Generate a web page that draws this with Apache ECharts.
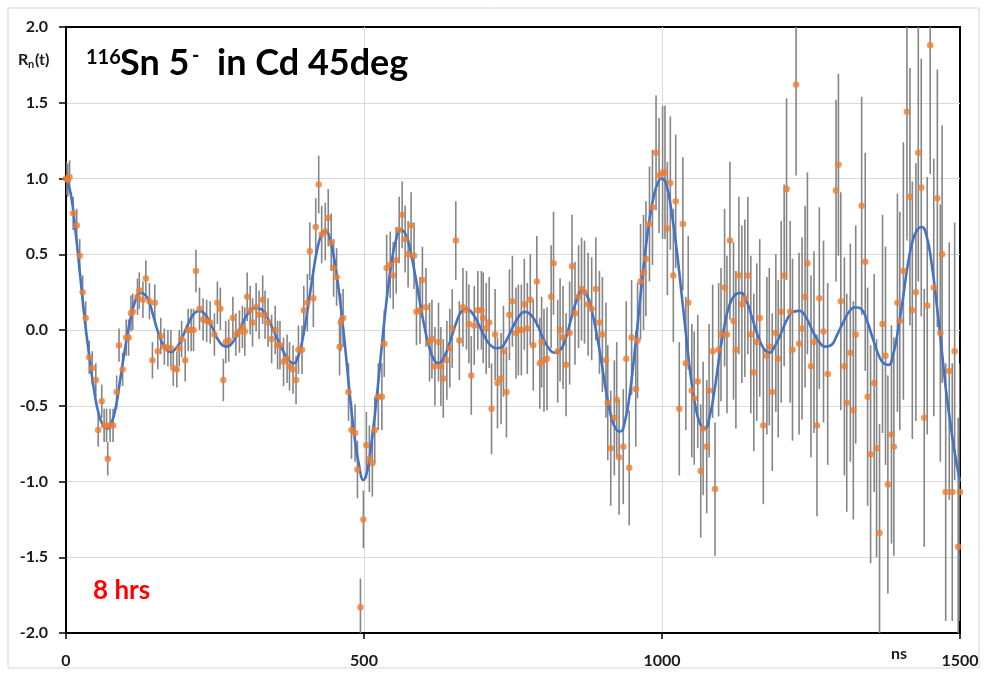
<!DOCTYPE html>
<html><head><meta charset="utf-8">
<script src="https://cdn.jsdelivr.net/npm/echarts@6/dist/echarts.min.js"></script>
<style>html,body{margin:0;padding:0;background:#fff}#c{width:987px;height:676px}</style>
</head><body><div id="c"></div>
<script>
// time (ns) of each measured point
const tNs = [
  0,3,6,12,18,23,28,33,39,44,
  50,54,60,64,68,70,74,79,85,89,
  95,101,105,109,112,120,123,129,134,140,
  145,149,154,159,165,171,176,180,186,190,
  194,200,205,210,214,218,224,230,236,242,
  249,254,259,264,268,273,280,285,291,296,
  300,304,309,313,319,324,330,334,339,345,
  351,355,359,365,371,375,381,386,390,396,
  399,405,409,415,419,424,429,435,440,445,
  449,454,459,461,465,474,479,485,489,494,
  499,504,509,514,518,524,530,534,538,544,
  549,554,559,564,569,574,579,584,588,594,
  598,604,610,614,619,625,629,633,639,644,
  648,654,660,666,672,676,680,685,691,697,
  700,705,710,714,720,724,730,734,739,744,
  749,755,759,764,769,774,779,784,790,795,
  798,802,807,814,818,825,829,834,839,845,
  849,854,860,865,870,876,882,889,895,900,
  906,909,914,920,924,928,935,940,945,949,
  956,959,964,969,973,979,984,990,995,1001,
  1005,1009,1014,1019,1023,1029,1035,1040,1044,1050,
  1054,1060,1065,1069,1075,1079,1085,1089,1095,1099,
  1105,1109,1114,1120,1124,1129,1134,1139,1144,1149,
  1154,1159,1164,1170,1176,1180,1185,1191,1195,1200,
  1205,1209,1215,1219,1225,1230,1235,1240,1244,1250,
  1255,1260,1264,1271,1278,1292,1296,1300,1306,1310,
  1316,1321,1325,1335,1341,1345,1350,1356,1360,1365,
  1370,1375,1379,1385,1389,1395,1399,1405,1411,1416,
  1420,1426,1430,1435,1440,1445,1450,1456,1462,1467,
  1470,1476,1482,1487,1491,1497,1500
];
// measured R_n(t) values
const rVals = [
  1.00,0.99,1.01,0.77,0.69,0.49,0.25,0.08,-0.18,-0.25,
  -0.33,-0.66,-0.47,-0.63,-0.63,-0.85,-0.63,-0.63,-0.41,-0.10,
  -0.26,-0.05,-0.05,0.11,0.12,0.22,0.26,0.20,0.34,0.19,
  -0.20,0.18,-0.14,-0.04,-0.11,-0.12,-0.12,-0.25,-0.26,-0.12,
  -0.06,-0.20,0.00,0.00,0.00,0.39,0.14,0.07,0.06,0.05,
  -0.03,0.18,0.14,-0.33,-0.08,-0.07,0.08,-0.03,-0.01,0.02,
  -0.01,0.22,0.13,0.05,0.15,0.10,0.20,0.10,0.05,-0.06,
  0.00,-0.10,-0.10,-0.21,-0.19,-0.24,-0.26,-0.33,-0.13,-0.13,
  0.13,0.18,0.52,0.21,0.68,0.96,0.63,0.65,0.74,0.58,
  0.41,0.35,-0.11,0.05,0.08,-0.41,-0.66,-0.68,-0.92,-1.83,
  -1.25,-0.76,-0.85,-0.88,-0.66,-0.44,-0.44,-0.09,0.41,0.43,
  0.36,0.46,0.66,0.76,0.60,0.50,0.69,0.49,0.12,0.13,
  0.33,0.15,-0.08,-0.06,-0.24,-0.08,-0.24,-0.32,-0.20,-0.12,
  0.01,0.59,-0.07,0.15,0.13,0.04,-0.30,0.03,0.13,0.13,
  0.08,0.01,0.05,-0.52,-0.03,-0.35,-0.32,-0.14,-0.41,0.10,
  0.19,-0.02,0.00,0.00,0.17,0.01,0.20,-0.10,0.32,-0.22,
  -0.08,-0.20,-0.19,0.22,0.44,-0.14,0.00,-0.05,-0.23,-0.02,
  0.42,0.11,0.22,0.27,0.25,0.17,0.14,0.27,0.05,-0.03,
  -0.20,-0.48,-0.78,-0.58,-0.46,-0.84,-0.77,-0.19,-0.91,-0.05,
  -0.39,-0.07,0.32,0.38,0.47,0.70,0.81,1.17,1.02,1.04,
  1.04,0.67,0.97,0.36,0.85,-0.52,0.70,-0.22,0.18,-0.40,
  -0.45,-0.34,-0.93,-0.65,-0.77,-0.40,-0.14,-1.05,-0.13,-0.03,
  0.28,-0.03,0.59,0.06,-0.13,0.36,0.17,0.21,0.36,-0.03,
  -0.28,-0.08,0.08,-0.63,-0.17,-0.11,-0.41,-0.02,-0.19,0.12,
  0.36,0.93,0.12,-0.13,1.62,-0.09,0.01,0.22,0.44,-0.24,
  -0.08,-0.63,0.21,-0.01,-0.29,0.92,1.09,0.19,-0.24,-0.48,
  -0.15,-0.53,-0.03,0.82,0.45,-0.44,-0.82,-0.35,-0.78,-1.34,
  0.04,-0.17,-1.02,-0.69,-0.77,0.18,0.06,0.39,1.44,0.88,
  0.13,0.25,1.17,0.94,-0.58,0.16,1.88,0.28,0.87,-0.02,
  0.50,-1.07,-0.27,-1.07,-0.14,-1.43,-1.07
];
// error-bar half-length, per 100 ns band
const errBandStep = 100;
const errBand = [0.11,0.12,0.14,0.16,0.19,0.22,0.26,0.30,0.34,0.38,0.44,0.52,0.60,0.72,0.85];
// fitted curve
const fitT = [
  0,8,16,24,32,40,48,56,64,70,76,84,92,100,108,116,124,130,138,146,
  155,165,175,185,195,205,215,224,234,245,256,268,280,292,304,316,326,338,350,362,
  372,382,390,398,406,414,422,430,436,444,452,460,468,476,484,492,499,506,514,522,
  530,538,546,554,562,570,578,586,594,602,610,618,625,634,644,654,663,672,682,692,
  702,712,722,730,740,750,760,770,780,790,800,810,820,828,838,848,858,866,874,882,
  890,898,906,914,922,930,938,946,954,962,970,978,986,994,1000,1008,1016,1024,1032,1040,
  1048,1056,1064,1072,1080,1088,1096,1104,1112,1122,1132,1142,1152,1162,1172,1180,1190,1200,1210,1220,
  1231,1242,1252,1262,1274,1284,1294,1304,1314,1324,1334,1344,1354,1364,1372,1380,1388,1396,1404,1412,
  1420,1428,1436,1444,1452,1460,1468,1476,1484,1492,1500
];
const fitV = [
  1.00,0.90,0.65,0.35,0.05,-0.20,-0.42,-0.57,-0.64,-0.65,-0.62,-0.50,-0.30,-0.10,0.07,0.19,0.245,0.24,0.20,0.10,
  -0.02,-0.11,-0.145,-0.12,-0.05,0.04,0.11,0.125,0.10,0.02,-0.07,-0.11,-0.08,0.01,0.10,0.145,0.14,0.08,-0.02,-0.12,
  -0.19,-0.22,-0.17,-0.04,0.15,0.36,0.54,0.64,0.65,0.58,0.42,0.19,-0.10,-0.42,-0.70,-0.90,-0.99,-0.92,-0.70,-0.42,
  -0.10,0.20,0.44,0.60,0.66,0.63,0.52,0.36,0.18,0.01,-0.12,-0.20,-0.22,-0.18,-0.08,0.04,0.12,0.14,0.11,0.04,
  -0.04,-0.10,-0.12,-0.115,-0.06,0.02,0.09,0.12,0.10,0.04,-0.05,-0.12,-0.15,-0.14,-0.06,0.08,0.21,0.26,0.23,0.13,
  -0.02,-0.20,-0.40,-0.56,-0.65,-0.67,-0.60,-0.42,-0.15,0.15,0.45,0.70,0.88,0.98,1.00,0.95,0.78,0.55,0.27,-0.02,
  -0.30,-0.50,-0.62,-0.65,-0.57,-0.40,-0.18,0.01,0.15,0.23,0.245,0.19,0.07,-0.05,-0.13,-0.15,-0.10,-0.02,0.07,0.12,
  0.126,0.08,0.00,-0.07,-0.11,-0.10,-0.03,0.05,0.12,0.15,0.14,0.06,-0.06,-0.17,-0.22,-0.23,-0.16,0.00,0.20,0.42,
  0.58,0.66,0.68,0.62,0.45,0.20,-0.08,-0.38,-0.62,-0.83,-1.00
];
const xTicks = [0, 500, 1000, 1500];
const yTickStep = 0.5;

const FONT = 'Lato';
const chart = echarts.init(document.getElementById('c'), null, {renderer: 'canvas'});
const pts = tNs.map((t, i) => [t, rVals[i]]);
const bars = tNs.map((t, i) => {
  const e = errBand[Math.min(errBand.length - 1, Math.floor(t / errBandStep))];
  return [t, rVals[i] - e, rVals[i] + e];
});
const fit = fitT.map((t, i) => [t, fitV[i]]);

function renderBar(params, api) {
  const t = api.value(0);
  const p1 = api.coord([t, api.value(1)]);
  const p2 = api.coord([t, api.value(2)]);
  return {
    type: 'line',
    shape: {x1: p1[0], y1: p1[1], x2: p2[0], y2: p2[1]},
    style: {stroke: '#858585', lineWidth: 1.6}
  };
}

const labelStyle = {fontFamily: FONT, fontWeight: 'bold', fontSize: 16, color: '#1a1a1a'};

chart.setOption({
  animation: false,
  backgroundColor: '#ffffff',
  grid: {left: 66, top: 27, width: 894, height: 606, show: true, borderColor: '#000', borderWidth: 2, backgroundColor: '#fff'},
  xAxis: {
    type: 'value', min: xTicks[0], max: xTicks[xTicks.length - 1], interval: xTicks[1] - xTicks[0],
    axisLine: {show: true, onZero: false, lineStyle: {color: '#000', width: 2}},
    axisTick: {show: true, length: 6, lineStyle: {color: '#000', width: 1.5}},
    axisLabel: Object.assign({margin: 20, formatter: v => String(v)}, labelStyle),
    splitLine: {show: true, showMinLine: false, showMaxLine: false, lineStyle: {color: '#d9d9d9', width: 1}}
  },
  yAxis: {
    type: 'value', min: -2, max: 2, interval: yTickStep,
    axisLine: {show: true, onZero: false, lineStyle: {color: '#000', width: 2}},
    axisTick: {show: true, length: 7, lineStyle: {color: '#000', width: 1.5}},
    axisLabel: Object.assign({margin: 18, formatter: v => v.toFixed(1)}, labelStyle),
    splitLine: {show: true, showMinLine: false, showMaxLine: false, lineStyle: {color: '#d9d9d9', width: 1}}
  },
  series: [
    {type: 'custom', renderItem: renderBar, data: bars, encode: {x: 0, y: [1, 2]}, clip: true, z: 1, silent: true},
    {type: 'line', data: fit, smooth: 0.5, showSymbol: false, lineStyle: {color: '#4472C4', width: 2.6}, z: 2, silent: true},
    {type: 'scatter', data: pts, symbolSize: 6.5, itemStyle: {color: '#ED7D31'}, z: 3, clip: true, silent: true}
  ],
  graphic: [
    {type: 'rect', shape: {x: 8, y: 8, width: 971, height: 660}, style: {fill: 'none', stroke: '#d6d6d6', lineWidth: 1}, z: 0},
    {type: 'text', x: 86, y: 48, style: {text: '116', font: 'bold 20px Lato', fill: '#000', verticalAlign: 'top'}, z: 10},
    {type: 'text', x: 120, y: 45, style: {text: 'Sn 5', font: 'bold 36px Lato', fill: '#000', verticalAlign: 'top'}, z: 10},
    {type: 'text', x: 192, y: 46, style: {text: '-', font: 'bold 20px Lato', fill: '#000', verticalAlign: 'top'}, z: 10},
    {type: 'text', x: 217, y: 45, style: {text: 'in Cd 45deg', font: 'bold 36px Lato', fill: '#000', verticalAlign: 'top'}, z: 10},
    {type: 'text', x: 18, y: 52, style: {text: 'R', font: 'bold 16px Lato', fill: '#1a1a1a', verticalAlign: 'top'}, z: 10},
    {type: 'text', x: 28, y: 59, style: {text: 'n', font: 'bold 11px Lato', fill: '#1a1a1a', verticalAlign: 'top'}, z: 10},
    {type: 'text', x: 35, y: 52, style: {text: '(t)', font: 'bold 16px Lato', fill: '#1a1a1a', verticalAlign: 'top'}, z: 10},
    {type: 'text', x: 899, y: 646, style: {text: 'ns', font: 'bold 16px Lato', fill: '#1a1a1a', align: 'center', verticalAlign: 'top'}, z: 10},
    {type: 'text', x: 93, y: 578, style: {text: '8 hrs', font: 'bold 26px Lato', fill: '#ff0000', verticalAlign: 'top'}, z: 10}
  ]
});
</script>
</body></html>
